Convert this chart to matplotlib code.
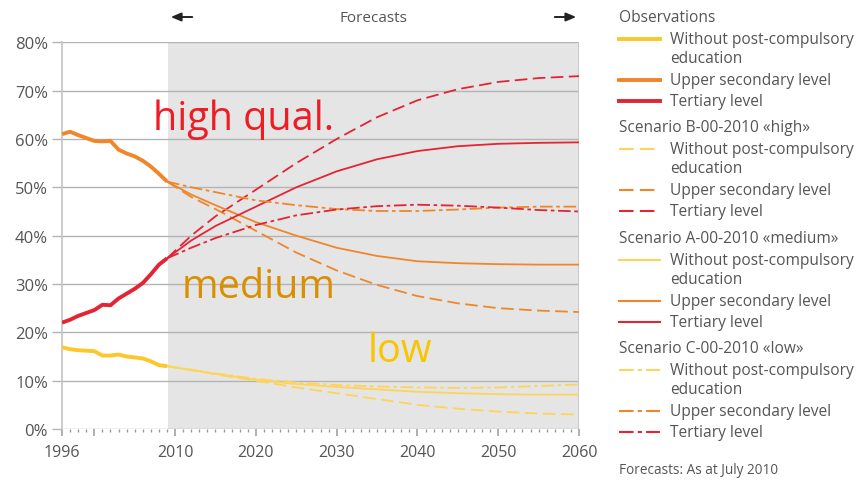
import matplotlib
matplotlib.use("Agg")
import matplotlib.pyplot as plt
from matplotlib.lines import Line2D
import numpy as np

plt.rcParams['font.family'] = ['Open Sans', 'DejaVu Sans']

# ---- data ----
obs_years = [1996, 1997, 1998, 1999, 2000, 2001, 2002, 2003, 2004, 2005, 2006, 2007, 2008, 2009]
obs_without = [16.9, 16.5, 16.3, 16.2, 16.1, 15.2, 15.2, 15.4, 15.0, 14.8, 14.6, 14.0, 13.2, 13.0]
obs_upper = [61.0, 61.5, 60.8, 60.2, 59.6, 59.5, 59.6, 57.8, 57.0, 56.4, 55.5, 54.3, 52.8, 51.2]
obs_tertiary = [22.0, 22.6, 23.4, 24.0, 24.6, 25.7, 25.6, 27.0, 28.0, 29.0, 30.2, 32.0, 34.0, 35.3]

fc_years = [2009, 2012, 2015, 2020, 2025, 2030, 2035, 2040, 2045, 2050, 2055, 2060]
high_without = [13.0, 12.2, 11.3, 10.0, 8.6, 7.4, 6.2, 5.0, 4.2, 3.6, 3.2, 3.0]
high_upper = [51.2, 48.0, 45.5, 41.0, 36.5, 32.8, 29.8, 27.5, 26.0, 25.0, 24.5, 24.2]
high_tertiary = [35.3, 40.0, 44.0, 49.5, 55.0, 60.0, 64.5, 68.0, 70.3, 71.8, 72.6, 73.0]
med_without = [13.0, 12.2, 11.4, 10.2, 9.3, 8.7, 8.2, 7.7, 7.4, 7.2, 7.1, 7.1]
med_upper = [51.2, 48.5, 46.3, 42.8, 40.0, 37.5, 35.8, 34.7, 34.3, 34.1, 34.0, 34.0]
med_tertiary = [35.3, 39.0, 42.0, 46.0, 50.0, 53.3, 55.8, 57.5, 58.5, 59.0, 59.2, 59.3]
low_without = [13.0, 12.3, 11.5, 10.4, 9.6, 9.1, 8.8, 8.6, 8.5, 8.6, 8.9, 9.2]
low_upper = [51.2, 50.0, 49.0, 47.3, 46.3, 45.5, 45.1, 45.1, 45.4, 45.8, 46.0, 46.0]
low_tertiary = [35.3, 37.5, 39.5, 42.2, 44.2, 45.4, 46.1, 46.4, 46.2, 45.8, 45.3, 45.0]

y_ticks = [0, 10, 20, 30, 40, 50, 60, 70, 80]
x_labels = [1996, 2010, 2020, 2030, 2040, 2050, 2060]
major_marks = [1996, 2000, 2010, 2020, 2030, 2040, 2050, 2060]
minor_marks = [y for y in range(1997, 2060) if y not in major_marks]

# ---- colours ----
C_Y = '#fcc72a'
C_Y2 = '#fdd45a'
C_O = '#f0862a'
C_R = '#e32434'
GRID = '#b4b4b4'
TICK = '#9a9a9a'
TXT = '#555555'

fig = plt.figure(figsize=(8.59, 4.81), dpi=100)
ax = fig.add_axes([62/859, 1-430/481, (579-62)/859, (430-43.3)/481])

ax.axvspan(2009.1, 2060, color='#e5e5e5', zorder=0, lw=0)
for yv in y_ticks:
    ax.axhline(yv, color=GRID, lw=1.0, zorder=1)
ax.plot([2060, 2060], [0, 80], color='#c4c4c4', lw=1.2, zorder=1)

dash = (0, (7, 3))
dashdot = (0, (7, 2, 2, 2))
lwf = 1.3
# high (dashed)
ax.plot(fc_years, high_without, color=C_Y2, lw=lwf, ls=dash, zorder=3)
ax.plot(fc_years, high_upper, color=C_O, lw=lwf, ls=dash, zorder=3)
ax.plot(fc_years, high_tertiary, color=C_R, lw=lwf, ls=dash, zorder=3)
# medium (solid)
ax.plot(fc_years, med_without, color=C_Y2, lw=lwf, zorder=3)
ax.plot(fc_years, med_upper, color=C_O, lw=lwf, zorder=3)
ax.plot(fc_years, med_tertiary, color=C_R, lw=lwf, zorder=3)
# low (dash-dot)
ax.plot(fc_years, low_without, color=C_Y2, lw=lwf, ls=dashdot, zorder=3)
ax.plot(fc_years, low_upper, color=C_O, lw=lwf, ls=dashdot, zorder=3)
ax.plot(fc_years, low_tertiary, color=C_R, lw=lwf, ls=dashdot, zorder=3)
# observations
lwo = 2.8
ax.plot(obs_years, obs_without, color=C_Y, lw=lwo, zorder=4, solid_capstyle='butt')
ax.plot(obs_years, obs_upper, color=C_O, lw=lwo, zorder=4, solid_capstyle='butt')
ax.plot(obs_years, obs_tertiary, color=C_R, lw=lwo, zorder=4, solid_capstyle='butt')

ax.set_xlim(1996, 2060)
ax.set_ylim(0, 80)
for s in ['top', 'right', 'bottom']:
    ax.spines[s].set_visible(False)
ax.spines['left'].set_color('#c4c4c4')
ax.spines['left'].set_linewidth(1.2)
ax.spines['left'].set_zorder(2)

ax.set_yticks(y_ticks)
ax.set_yticklabels([f'{v}%' for v in y_ticks], color=TXT, fontsize=12)
ax.tick_params(axis='y', length=7, color=GRID, width=1.0, pad=3)
ax.set_xticks(x_labels)
ax.set_xticklabels([str(v) for v in x_labels], color=TXT, fontsize=11.5)
ax.tick_params(axis='x', which='major', length=0, pad=11)
# explicit tick marks below the axis
ax.vlines(minor_marks, -0.7, 0, colors=TICK, lw=1.0, clip_on=False, zorder=1)
ax.vlines(major_marks, -1.5, 0, colors=TICK, lw=1.1, clip_on=False, zorder=1)

# overlay labels
ax.text(2018.5, 64.1, 'high qual.', color='#ee1c25', fontsize=28.5, ha='center', va='center')
ax.text(2020.3, 29.4, 'medium', color='#d99000', fontsize=28.5, ha='center', va='center')
ax.text(2037.8, 16.1, 'low', color='#f7c600', fontsize=28.5, ha='center', va='center')

# forecast header
fig.text(373/859, 1-18/481, 'Forecasts', color=TXT, fontsize=11, ha='center', va='center')
fig.add_artist(matplotlib.patches.FancyArrowPatch((195/859, 1-18/481), (168/859, 1-18/481),
               transform=fig.transFigure, arrowstyle='-|>,head_length=6,head_width=2.5',
               color='#222222', lw=1.4, mutation_scale=1))
fig.add_artist(matplotlib.patches.FancyArrowPatch((552/859, 1-18/481), (579/859, 1-18/481),
               transform=fig.transFigure, arrowstyle='-|>,head_length=6,head_width=2.5',
               color='#222222', lw=1.4, mutation_scale=1))

# manual legend
def lgline(y, color, ls='-', lw=1.5):
    fig.add_artist(Line2D([619/859, 660/859], [1-y/481, 1-y/481], color=color, ls=ls, lw=lw,
                          transform=fig.transFigure))

def lgtext(x, y, s):
    fig.text(x/859, 1-y/481, s, color=TXT, fontsize=11.2, ha='left', va='center')

groups = [
    ('Observations', 18, '-', 2.8, C_Y),
    ('Scenario B-00-2010 \u00abhigh\u00bb', 128, dash, 1.5, C_Y2),
    ('Scenario A-00-2010 \u00abmedium\u00bb', 239, '-', 1.5, C_Y2),
    ('Scenario C-00-2010 \u00ablow\u00bb', 349, dashdot, 1.5, C_Y2),
]
for title, y0, ls, lw, cy in groups:
    lgtext(619, y0, title)
    lgline(y0 + 22, cy, ls, lw)
    lgtext(670, y0 + 22, 'Without post-compulsory')
    lgtext(670, y0 + 41, 'education')
    lgline(y0 + 63, C_O, ls, lw)
    lgtext(670, y0 + 63, 'Upper secondary level')
    lgline(y0 + 84, C_R, ls, lw)
    lgtext(670, y0 + 84, 'Tertiary level')

fig.text(619/859, 1-471/481, 'Forecasts: As at July 2010', color=TXT, fontsize=9.8, ha='left', va='center')

fig.savefig('out.png', dpi=100)
